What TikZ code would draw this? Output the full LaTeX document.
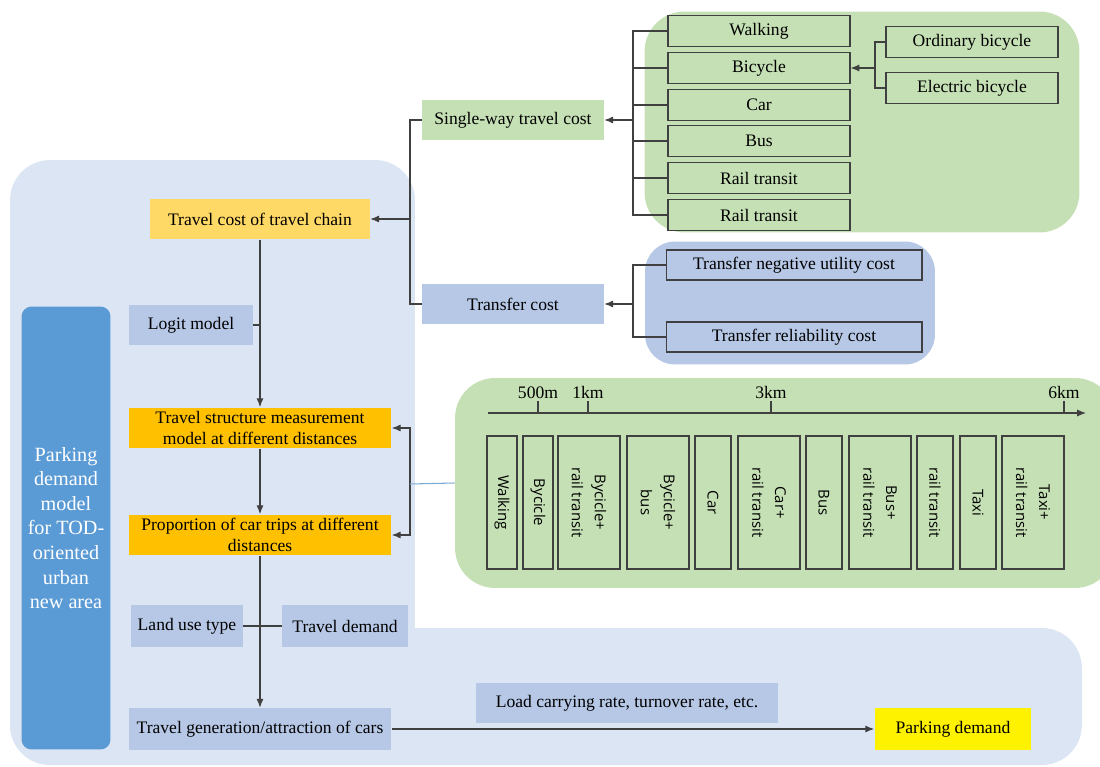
\documentclass[tikz,border=0pt]{standalone}
\usepackage{fontspec}
\setmainfont{Liberation Serif}
\newfontfamily\modefont{Open Sans}
\usetikzlibrary{arrows.meta}

\definecolor{panelgreen}{RGB}{197,224,180}
\definecolor{panelblue}{RGB}{220,229,243}
\definecolor{nodeblue}{RGB}{182,200,230}
\definecolor{barblue}{RGB}{91,155,213}
\definecolor{chainorange}{RGB}{255,217,102}
\definecolor{stageorange}{RGB}{255,192,0}
\definecolor{lineblue}{RGB}{120,170,215}

\tikzset{
  panel/.style={rounded corners=0.8cm, inner sep=0pt},
  plainbox/.style={inner sep=2pt, align=center, font=\fontsize{10}{11.5}\selectfont},
  framedbox/.style={plainbox, draw=black!75, line width=0.6pt},
  modebox/.style={framedbox, fill=panelgreen, minimum width=3.64cm, minimum height=0.62cm},
  distbox/.style={framedbox, fill=panelgreen, rotate=-90, minimum width=2.66cm,
    font=\modefont\fontsize{8.5}{13}\selectfont},
  link/.style={draw=black!75, line width=0.6pt},
}

\begin{document}
\begin{tikzpicture}[x=0.02cm, y=-0.02cm, >={Latex[length=5pt,width=4pt]}]
  \useasboundingbox (0,0) rectangle (1100,767);

  % background panels
  \node[panel, fill=panelblue, minimum width=8.1cm, minimum height=12.1cm]	(model-panel)	at (212.5,462.5)	{};
  \node[panel, fill=panelblue, minimum width=21.44cm, minimum height=2.74cm]	(demand-panel)	at (546,696.5)	{};
  \node[panel, fill=panelgreen, minimum width=8.7cm, minimum height=4.42cm]	(mode-panel)	at (862,122)	{};
  \node[panel, fill=nodeblue, rounded corners=0.6cm, minimum width=5.8cm, minimum height=2.46cm]	(transfer-panel)	at (790,303)	{};
  \node[panel, fill=panelgreen, minimum width=13.2cm, minimum height=4.2cm]	(distance-panel)	at (785,483)	{};

  \node[plainbox, fill=barblue, rounded corners=0.2cm, minimum width=1.78cm, minimum height=8.86cm, text=white,
    font=\fontsize{11.5}{14}\selectfont]	(tod-model)	at (66,528)	{Parking\\demand\\model\\for TOD-\\oriented\\urban\\new area};

  % travel cost
  \node[plainbox, fill=panelgreen, minimum width=3.64cm, minimum height=0.82cm]	(single-way)	at (513,120)	{Single-way travel cost};
  \node[plainbox, fill=nodeblue, minimum width=3.64cm, minimum height=0.82cm]	(transfer)	at (513,304)	{Transfer cost};

  \node[modebox]	(walk)		at (759,31)	{Walking};
  \node[modebox]	(bicycle)	at (759,68)	{Bicycle};
  \node[modebox]	(car)		at (759,105)	{Car};
  \node[modebox]	(bus)		at (759,141)	{Bus};
  \node[modebox]	(rail)		at (759,178)	{Rail transit};
  \node[modebox]	(rail-b)	at (759,215)	{Rail transit};

  \node[modebox, minimum width=3.44cm]	(ordinary)	at (972,42)	{Ordinary bicycle};
  \node[modebox, minimum width=3.44cm]	(electric)	at (972,88)	{Electric bicycle};

  \node[framedbox, fill=nodeblue, minimum width=5.12cm, minimum height=0.6cm]	(negative)	at (794,265)	{Transfer negative utility cost};
  \node[framedbox, fill=nodeblue, minimum width=5.12cm, minimum height=0.6cm]	(reliability)	at (794,337)	{Transfer reliability cost};

  % model chain
  \node[plainbox, fill=chainorange, minimum width=4.4cm, minimum height=0.82cm]	(chain)	at (260,219)	{Travel cost of travel chain};
  \node[plainbox, fill=nodeblue, minimum width=2.48cm, minimum height=0.82cm]	(logit)	at (191,325)	{Logit model};
  \node[plainbox, fill=stageorange, minimum width=5.26cm, minimum height=0.82cm]	(structure)	at (260,428)	{Travel structure measurement\\model at different distances};
  \node[plainbox, fill=stageorange, minimum width=5.26cm, minimum height=0.82cm]	(proportion)	at (260,535)	{Proportion of car trips at different\\distances};
  \node[plainbox, fill=nodeblue, minimum width=2.24cm, minimum height=0.84cm]	(land-use)	at (187,626)	{Land use type};
  \node[plainbox, fill=nodeblue, minimum width=2.52cm, minimum height=0.84cm]	(travel-demand)	at (345,626)	{Travel demand};
  \node[plainbox, fill=nodeblue, minimum width=5.26cm, minimum height=0.84cm]	(generation)	at (260,729)	{Travel generation/attraction of cars};
  \node[plainbox, fill=nodeblue, minimum width=6.06cm, minimum height=0.8cm]	(load-rate)	at (627,703)	{Load carrying rate, turnover rate, etc.};
  \node[plainbox, fill=yellow, minimum width=3.14cm, minimum height=0.84cm]	(parking)	at (953,729)	{Parking demand};

  % distance axis
  \coordinate (axis-start)	at (488,413);
  \coordinate (axis-end)	at (1086,413);
  \draw[link, ->] (axis-start) -- (axis-end);
  \draw[link] (538,413) -- (538,401) node[above, inner sep=1pt, font=\fontsize{10}{12}\selectfont] (km-half)	{500m};
  \draw[link] (588,413) -- (588,401) node[above, inner sep=1pt, font=\fontsize{10}{12}\selectfont] (km-one)	{1km};
  \draw[link] (771,413) -- (771,401) node[above, inner sep=1pt, font=\fontsize{10}{12}\selectfont] (km-three)	{3km};
  \draw[link] (1064,413) -- (1064,401) node[above, inner sep=1pt, font=\fontsize{10}{12}\selectfont] (km-six)	{6km};

  \node[distbox, minimum height=0.6cm]	(d-walk)	at (502,502.5)	{Walking};
  \node[distbox, minimum height=0.6cm]	(d-bike)	at (538,502.5)	{Bycicle};
  \node[distbox, minimum height=1.24cm]	(d-bike-rail)	at (589,502.5)	{Bycicle+\\rail transit};
  \node[distbox, minimum height=1.24cm]	(d-bike-bus)	at (658,502.5)	{Bycicle+\\bus};
  \node[distbox, minimum height=0.72cm]	(d-car)		at (713,502.5)	{Car};
  \node[distbox, minimum height=1.24cm]	(d-car-rail)	at (769,502.5)	{Car+\\rail transit};
  \node[distbox, minimum height=0.72cm]	(d-bus)		at (824,502.5)	{Bus};
  \node[distbox, minimum height=1.24cm]	(d-bus-rail)	at (880,502.5)	{Bus+\\rail transit};
  \node[distbox, minimum height=0.72cm]	(d-rail)	at (935,502.5)	{rail transit};
  \node[distbox, minimum height=0.72cm]	(d-taxi)	at (978,502.5)	{Taxi};
  \node[distbox, minimum height=1.24cm]	(d-taxi-rail)	at (1033,502.5)	{Taxi+\\rail transit};

  % junctions
  \coordinate (mode-join)	at (633,120);
  \coordinate (bike-join)	at (875,68);
  \coordinate (transfer-join)	at (633,304);
  \coordinate (cost-join)	at (410,219);
  \coordinate (dist-join)	at (410,484);

  \draw[link] (walk.west) -| (mode-join) |- (rail-b.west);
  \draw[link] (bicycle.west) -- (bicycle.west -| mode-join);
  \draw[link] (car.west) -- (car.west -| mode-join);
  \draw[link] (bus.west) -- (bus.west -| mode-join);
  \draw[link] (rail.west) -- (rail.west -| mode-join);
  \draw[link, ->] (mode-join) -- (single-way.east);

  \draw[link] (ordinary.west) -| (bike-join) |- (electric.west);
  \draw[link, ->] (bike-join) -- (bicycle.east);

  \draw[link] (negative.west) -| (transfer-join) |- (reliability.west);
  \draw[link, ->] (transfer-join) -- (transfer.east);

  \draw[link] (single-way.west) -| (cost-join) |- (transfer.west);
  \draw[link, ->] (cost-join) -- (chain.east);

  \draw[link, ->] (chain.south) -- (structure.north);
  \draw[link] (logit.east) -- (logit.east -| chain.south);
  \draw[link, ->] (structure.south) -- (proportion.north);
  \draw[link, <->] (structure.east) -| (dist-join) |- (proportion.east);
  \draw[lineblue, line width=0.6pt] (dist-join) -- (distance-panel.west);

  \draw[link, ->] (proportion.south) -- (generation.north);
  \draw[link] (land-use.east) -- (travel-demand.west);
  \draw[link, ->] (generation.east) -- (parking.west);
\end{tikzpicture}
\end{document}
